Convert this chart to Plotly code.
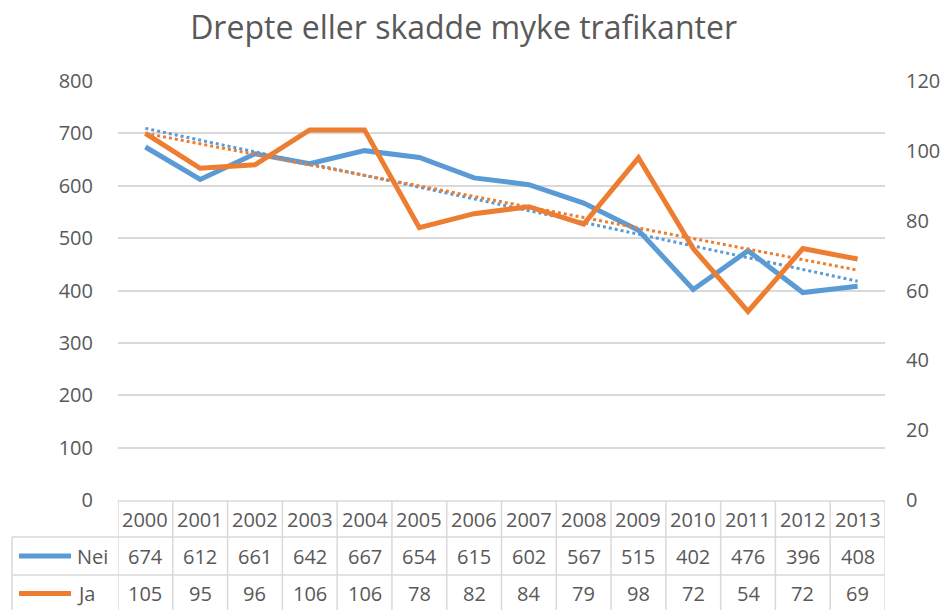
import numpy as np
import plotly.graph_objects as go

years = ["2000", "2001", "2002", "2003", "2004", "2005", "2006", "2007",
         "2008", "2009", "2010", "2011", "2012", "2013"]
nei = [674, 612, 661, 642, 667, 654, 615, 602, 567, 515, 402, 476, 396, 408]
ja = [105, 95, 96, 106, 106, 78, 82, 84, 79, 98, 72, 54, 72, 69]
series_names = ["Nei", "Ja"]
title_text = "Drepte eller skadde myke trafikanter"

BLUE = "#5b9bd5"
ORANGE = "#ed7d31"
TXT = "#595959"
GRID = "#d9d9d9"
FONT = "Open Sans"
FS = 20

W, H = 946, 610
L, R, T, B = 118, 61, 81, 110
plot_h = H - T - B
plot_w = W - L - R


def py(pix):
    """pixel y -> paper y"""
    return (H - B - pix) / plot_h


def px(pix):
    return (pix - L) / plot_w


idx = np.arange(len(years))
fit_nei = np.polyval(np.polyfit(idx, nei, 1), idx)
fit_ja = np.polyval(np.polyfit(idx, ja, 1), idx)

fig = go.Figure()
fig.add_trace(go.Scatter(x=years, y=fit_nei, mode="lines", yaxis="y",
                         line=dict(color=BLUE, width=3, dash="dot"),
                         showlegend=False, hoverinfo="skip"))
fig.add_trace(go.Scatter(x=years, y=fit_ja, mode="lines", yaxis="y2",
                         line=dict(color=ORANGE, width=3, dash="dot"),
                         showlegend=False, hoverinfo="skip"))
fig.add_trace(go.Scatter(x=years, y=nei, mode="lines", name=series_names[0],
                         yaxis="y", line=dict(color=BLUE, width=5),
                         showlegend=False))
fig.add_trace(go.Scatter(x=years, y=ja, mode="lines", name=series_names[1],
                         yaxis="y2", line=dict(color=ORANGE, width=5),
                         showlegend=False))

shapes = []
ann = []
line_style = dict(color=GRID, width=1.5)
y_head_top, y_nei_top, y_ja_top, y_bot = 501, 537, 575, 613
shapes.append(dict(type="line", xref="x", yref="paper", x0=-0.5, x1=len(years) - 0.5,
                   y0=py(y_head_top), y1=py(y_head_top), line=line_style))
for yy in (y_nei_top, y_ja_top, y_bot):
    shapes.append(dict(type="line", xref="paper", yref="paper", x0=px(12), x1=1,
                       y0=py(yy), y1=py(yy), line=line_style))
for i in range(len(years) + 1):
    shapes.append(dict(type="line", xref="x", yref="paper", x0=i - 0.5, x1=i - 0.5,
                       y0=py(y_head_top), y1=py(y_bot), line=line_style))
shapes.append(dict(type="line", xref="paper", yref="paper", x0=px(12), x1=px(12),
                   y0=py(y_nei_top), y1=py(y_bot), line=line_style))

row_y = [py((y_nei_top + y_ja_top) / 2), py((y_ja_top + 612) / 2)]
for name, color, ry in zip(series_names, [BLUE, ORANGE], row_y):
    shapes.append(dict(type="line", xref="paper", yref="paper", x0=px(19), x1=px(71),
                       y0=ry, y1=ry, line=dict(color=color, width=5)))
    ann.append(dict(text=name, xref="paper", yref="paper", x=px(75), y=ry,
                    xanchor="left", yanchor="middle", showarrow=False,
                    font=dict(family=FONT, size=FS, color=TXT)))

head_y = py((y_head_top + y_nei_top) / 2)
for i, yr in enumerate(years):
    ann.append(dict(text=yr, xref="x", yref="paper", x=i, y=head_y,
                    xanchor="center", yanchor="middle", showarrow=False,
                    font=dict(family=FONT, size=FS, color=TXT)))
    for vals, ry in zip([nei, ja], row_y):
        ann.append(dict(text=str(vals[i]), xref="x", yref="paper", x=i, y=ry,
                        xanchor="center", yanchor="middle", showarrow=False,
                        font=dict(family=FONT, size=FS, color=TXT)))

fig.update_layout(
    width=W, height=H,
    margin=dict(l=L, r=R, t=T, b=B, autoexpand=False),
    paper_bgcolor="white", plot_bgcolor="white",
    title=dict(text=title_text, x=0.49, xanchor="center", y=0.955, yanchor="middle",
               font=dict(family=FONT, size=32, color=TXT)),
    font=dict(family=FONT, color=TXT),
    xaxis=dict(type="category", range=[-0.5, len(years) - 0.5], showticklabels=False,
               showgrid=False, zeroline=False, showline=False, ticks=""),
    yaxis=dict(range=[0, 800], dtick=100, showgrid=True, gridcolor=GRID, gridwidth=1.5,
               zeroline=False, showline=False, ticks="", ticklabelstandoff=24,
               tickfont=dict(family=FONT, size=FS, color=TXT)),
    yaxis2=dict(range=[0, 120], dtick=20, overlaying="y", side="right", showgrid=False,
                zeroline=False, showline=False, ticks="", ticklabelstandoff=20,
                tickfont=dict(family=FONT, size=FS, color=TXT)),
    shapes=shapes,
    annotations=ann,
    showlegend=False,
)

fig.write_html("out.html", config={"displayModeBar": False},
               post_script="document.body.style.margin='0';document.body.style.overflow='hidden';")
